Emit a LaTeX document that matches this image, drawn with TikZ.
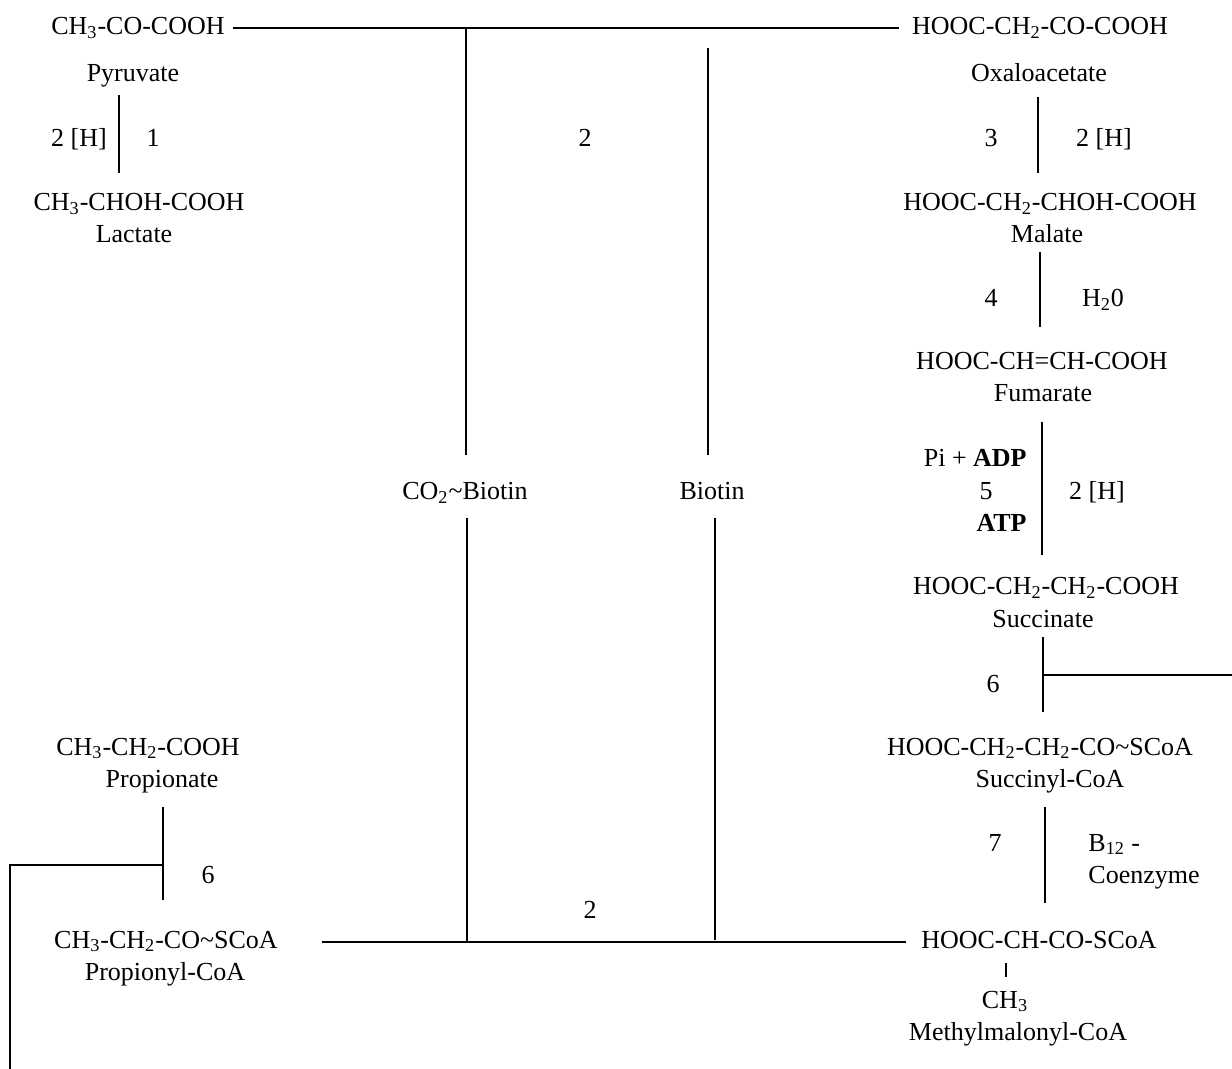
\documentclass[tikz,border=0pt]{standalone}
\usepackage{fontspec}
\setmainfont{Liberation Serif}
\usetikzlibrary{positioning}
\newcommand{\sub}[1]{\textsubscript{#1}}
\newcommand{\tl}{\textasciitilde}

\begin{document}
\begin{tikzpicture}[x=0.5pt, y=-0.5pt,
    txt/.style={inner sep=0pt, anchor=base, font=\fontsize{13}{15.6}\selectfont},
    link/.style={line width=0.75pt}]
\useasboundingbox (0,0) rectangle (1232,1069);
% left column: pyruvate -> lactate
\node[txt] (pyr)     at (138,35)  {CH\sub{3}-CO-COOH};
\node[txt] (pyrname) at (133,82)  {Pyruvate};
\node[txt] (h1)      at (79,147)  {2 [H]};
\node[txt] (e1)      at (153,147) {1};
\node[txt] (lac)     at (139,211) {CH\sub{3}-CHOH-COOH};
\node[txt] (lacname) at (134,243) {Lactate};
% right column: oxaloacetate down to methylmalonyl-CoA
\node[txt] (oxa)     at (1040,35)  {HOOC-CH\sub{2}-CO-COOH};
\node[txt] (oxaname) at (1039,82)  {Oxaloacetate};
\node[txt] (e3)      at (991,147)  {3};
\node[txt] (h3)      at (1104,147) {2 [H]};
\node[txt] (mal)     at (1050,211) {HOOC-CH\sub{2}-CHOH-COOH};
\node[txt] (malname) at (1047,243) {Malate};
\node[txt] (e4)      at (991,307)  {4};
\node[txt] (w4)      at (1103,307) {H\sub{2}0};
\node[txt] (fum)     at (1042,370) {HOOC-CH=CH-COOH};
\node[txt] (fumname) at (1043,402) {Fumarate};
\node[txt, anchor=base east] (pi5)  at (1027,467) {Pi + \textbf{ADP}};
\node[txt] (e5)      at (986,500)  {5};
\node[txt, anchor=base east] (atp5) at (1027,531) {\textbf{ATP}};
\node[txt] (h5)      at (1097,500) {2 [H]};
\node[txt] (suc)     at (1046,595) {HOOC-CH\sub{2}-CH\sub{2}-COOH};
\node[txt] (sucname) at (1043,627) {Succinate};
\node[txt] (e6a)     at (993,692)  {6};
\node[txt] (sccoa)   at (1040,755) {HOOC-CH\sub{2}-CH\sub{2}-CO\tl SCoA};
\node[txt] (sccoaname) at (1050,787) {Succinyl-CoA};
\node[txt] (e7)      at (995,851)  {7};
\node[txt, anchor=base west] (b12)   at (1088,851) {B\sub{12} -};
\node[txt, anchor=base west] (coenz) at (1088,883) {Coenzyme};
\node[txt] (mmcoa)   at (1039,948)  {HOOC-CH-CO-SCoA};
\node[txt] (mmch3)   at (1005,1008) {CH\sub{3}};
\node[txt] (mmcoaname) at (1018,1040) {Methylmalonyl-CoA};
% lower left: propionate -> propionyl-CoA
\node[txt] (prop)      at (148,755) {CH\sub{3}-CH\sub{2}-COOH};
\node[txt] (propname)  at (162,787) {Propionate};
\node[txt] (e6b)       at (208,883) {6};
\node[txt] (prcoa)     at (166,948) {CH\sub{3}-CH\sub{2}-CO\tl SCoA};
\node[txt] (prcoaname) at (165,980) {Propionyl-CoA};
% middle: biotin shuttle
\node[txt] (e2a)    at (585,147) {2};
\node[txt] (co2bio) at (465,500) {CO\sub{2}\tl Biotin};
\node[txt] (bio)    at (712,500) {Biotin};
\node[txt] (e2b)    at (590,918) {2};
% transcarboxylation lines
\draw[link] ([xshift=4pt,yshift=3.5pt]pyr.base east) -- ([xshift=-6.5pt,yshift=3.5pt]oxa.base west);
\draw[link] ([xshift=22pt,yshift=3pt]prcoa.base east) -- ([xshift=-7.5pt,yshift=3pt]mmcoa.base west);
\draw[link] (co2bio.base) ++(1,-45) -- ++(0,-427);
\draw[link] (co2bio.base) ++(2,18) -- ++(0,424);
\draw[link] (bio.base) ++(-4,-45) -- ++(0,-407);
\draw[link] (bio.base) ++(3,18) -- ++(0,422);
% reaction steps
\draw[link] (pyrname.base) ++(-14,13) -- ++(0,78);
\draw[link] (oxaname.base) ++(-1,15) -- ++(0,76);
\draw[link] (malname.base) ++(-7,9) -- ++(0,75);
\draw[link] (fumname.base) ++(-1,20) -- ++(0,133);
\draw[link] (sucname.base) ++(0,10) -- ++(0,75);
\draw[link] (sucname.base) ++(0,48) -- ++(189,0);
\draw[link] (sccoaname.base) ++(-5,20) -- ++(0,96);
\draw[link] (mmch3.base) ++(1,-45) -- ++(0,14);
\draw[link] (propname.base) ++(1,20) -- ++(0,93);
\draw[link] (propname.base) ++(1,78) -- ++(-153,0) -- ++(0,204);
\end{tikzpicture}
\end{document}
